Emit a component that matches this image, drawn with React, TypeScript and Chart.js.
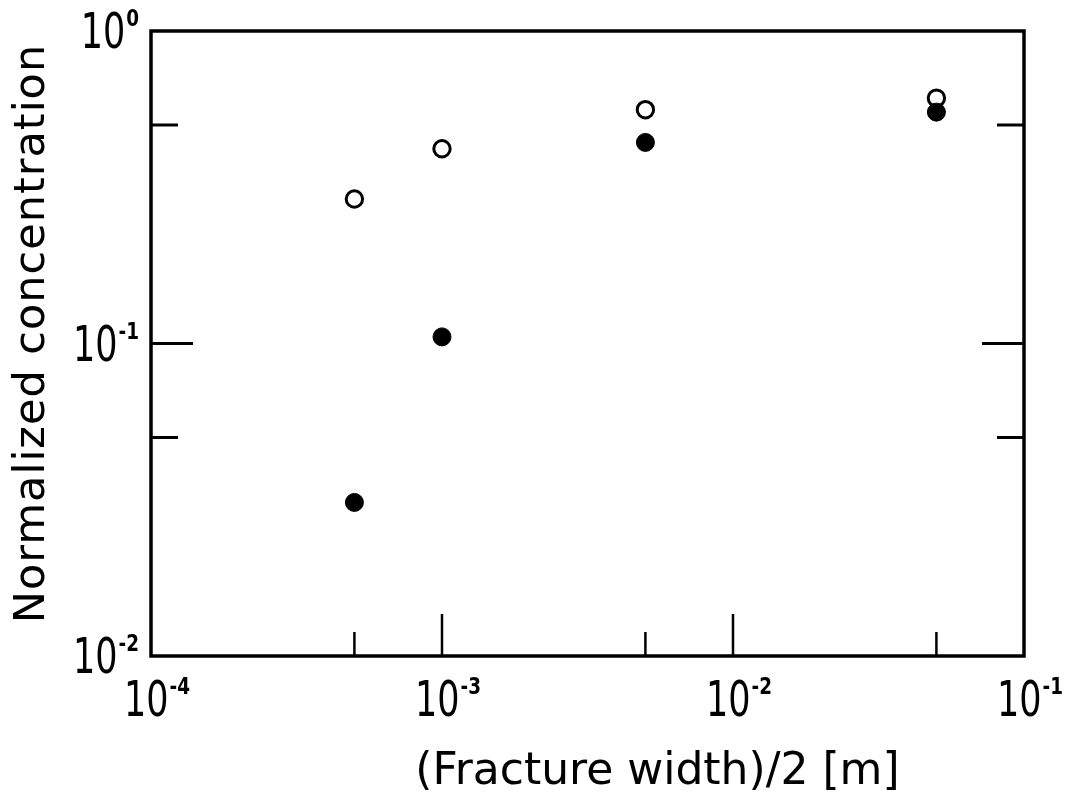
import React, { useEffect, useRef } from "react";
import { Chart, registerables } from "chart.js";

Chart.register(...registerables);

// Half fracture width [m]
const X_VALUES = [5e-4, 1e-3, 5e-3, 5e-2];
// Normalized concentration, open symbols
const OPEN_VALUES = [0.29, 0.42, 0.56, 0.61];
// Normalized concentration, filled symbols
const FILLED_VALUES = [0.031, 0.105, 0.44, 0.55];

const X_TICKS = [1e-4, 5e-4, 1e-3, 5e-3, 1e-2, 5e-2, 1e-1];
const Y_TICKS = [1e-2, 5e-2, 1e-1, 5e-1, 1];

const X_TITLE = "(Fracture width)/2 [m]";
const Y_TITLE = "Normalized concentration";

const FONT = '"DejaVu Sans", sans-serif';
const INK = "#000";

const isDecade = (v: number) => Math.abs(Math.log10(v) - Math.round(Math.log10(v))) < 1e-9;

// Draws "10" with a raised exponent, in a narrow hand-lettered style
function drawPower(
  ctx: CanvasRenderingContext2D,
  exp: number,
  anchorX: number,
  baseline: number,
  align: "right" | "center"
) {
  const SX = 0.7;
  const SXS = 0.8;
  const big = "10";
  const small = String(exp);
  ctx.font = `50px ${FONT}`;
  const wBig = ctx.measureText(big).width * SX;
  ctx.font = `bold 23px ${FONT}`;
  const wSmall = ctx.measureText(small).width * SXS;
  const gap = 1;
  const total = wBig + gap + wSmall;
  const left = align === "right" ? anchorX - total : anchorX - total / 2;

  ctx.save();
  ctx.fillStyle = INK;
  ctx.textAlign = "left";
  ctx.textBaseline = "alphabetic";
  ctx.translate(left, baseline);
  ctx.scale(SX, 1);
  ctx.font = `50px ${FONT}`;
  ctx.fillText(big, 0, 0);
  ctx.restore();

  ctx.save();
  ctx.fillStyle = INK;
  ctx.textAlign = "left";
  ctx.textBaseline = "alphabetic";
  ctx.translate(left + wBig + gap, baseline - 22);
  ctx.scale(SXS, 1);
  ctx.font = `bold 23px ${FONT}`;
  ctx.fillText(small, 0, 0);
  ctx.restore();
}

const framePlugin = {
  id: "frameAndLabels",
  afterDatasetsDraw(chart: any) {
    const { ctx, chartArea, scales } = chart;
    const { left, right, top, bottom } = chartArea;
    const xs = scales.x;
    const ys = scales.y;

    ctx.save();
    ctx.strokeStyle = INK;
    ctx.lineCap = "butt";

    // inward tick marks
    ctx.lineWidth = 2.5;
    for (const t of xs.ticks) {
      const px = xs.getPixelForValue(t.value);
      if (px <= left + 2 || px >= right - 2) continue;
      const len = isDecade(t.value) ? 42 : 24;
      ctx.beginPath();
      ctx.moveTo(px, bottom);
      ctx.lineTo(px, bottom - len);
      ctx.stroke();
    }
    ctx.lineWidth = 3;
    for (const t of ys.ticks) {
      const py = ys.getPixelForValue(t.value);
      if (py <= top + 2 || py >= bottom - 2) continue;
      const len = isDecade(t.value) ? 42 : 27;
      ctx.beginPath();
      ctx.moveTo(left, py);
      ctx.lineTo(left + len, py);
      ctx.moveTo(right, py);
      ctx.lineTo(right - len, py);
      ctx.stroke();
    }

    // frame
    ctx.lineWidth = 3.5;
    ctx.strokeRect(left, top, right - left, bottom - top);
    ctx.restore();

    // decade labels
    for (const t of ys.ticks) {
      if (!isDecade(t.value)) continue;
      const py = ys.getPixelForValue(t.value);
      drawPower(ctx, Math.round(Math.log10(t.value)), left - 12, py + 17, "right");
    }
    for (const t of xs.ticks) {
      if (!isDecade(t.value)) continue;
      const px = xs.getPixelForValue(t.value);
      drawPower(ctx, Math.round(Math.log10(t.value)), px + 6, bottom + 60, "center");
    }

    // axis titles
    ctx.save();
    ctx.fillStyle = INK;
    ctx.font = `44px ${FONT}`;
    ctx.textAlign = "center";
    ctx.textBaseline = "alphabetic";
    ctx.fillText(X_TITLE, (left + right) / 2 + 70, bottom + 128);
    ctx.restore();

    ctx.save();
    ctx.fillStyle = INK;
    ctx.font = `43px ${FONT}`;
    (ctx as any).letterSpacing = "1px";
    ctx.textAlign = "center";
    ctx.textBaseline = "alphabetic";
    ctx.translate(44, (top + bottom) / 2 - 10);
    ctx.rotate(-Math.PI / 2);
    ctx.fillText(Y_TITLE, 0, 0);
    ctx.restore();
  },
};

export default function App() {
  const ref = useRef<HTMLCanvasElement | null>(null);

  useEffect(() => {
    if (!ref.current) return;
    const chart = new Chart(ref.current, {
      type: "scatter",
      data: {
        datasets: [
          {
            label: "filled",
            data: X_VALUES.map((x, i) => ({ x, y: FILLED_VALUES[i] })),
            pointRadius: 9,
            pointBorderWidth: 1,
            pointBackgroundColor: INK,
            pointBorderColor: INK,
            showLine: false,
          },
          {
            label: "open",
            data: X_VALUES.map((x, i) => ({ x, y: OPEN_VALUES[i] })),
            pointRadius: 8.2,
            pointBorderWidth: 3,
            pointBackgroundColor: "#fff",
            pointBorderColor: INK,
            showLine: false,
          },
        ],
      },
      options: {
        responsive: false,
        animation: false,
        devicePixelRatio: 1,
        layout: { padding: { top: 31, right: 51, left: 0, bottom: 0 } },
        plugins: {
          legend: { display: false },
          tooltip: { enabled: false },
        },
        scales: {
          x: {
            type: "logarithmic",
            min: 1e-4,
            max: 1e-1,
            grid: { display: false },
            border: { display: false },
            ticks: { display: false },
            afterBuildTicks: (s: any) => {
              s.ticks = X_TICKS.map((value) => ({ value }));
            },
            afterFit: (s: any) => {
              s.height = 146;
            },
          },
          y: {
            type: "logarithmic",
            min: 1e-2,
            max: 1,
            grid: { display: false },
            border: { display: false },
            ticks: { display: false },
            afterBuildTicks: (s: any) => {
              s.ticks = Y_TICKS.map((value) => ({ value }));
            },
            afterFit: (s: any) => {
              s.width = 151;
            },
          },
        },
      },
      plugins: [framePlugin],
    });
    return () => chart.destroy();
  }, []);

  return (
    <div style={{ position: "fixed", left: 0, top: 0, width: 1075, height: 802, background: "#fff" }}>
      <canvas ref={ref} width={1075} height={802} style={{ display: "block" }} />
    </div>
  );
}
